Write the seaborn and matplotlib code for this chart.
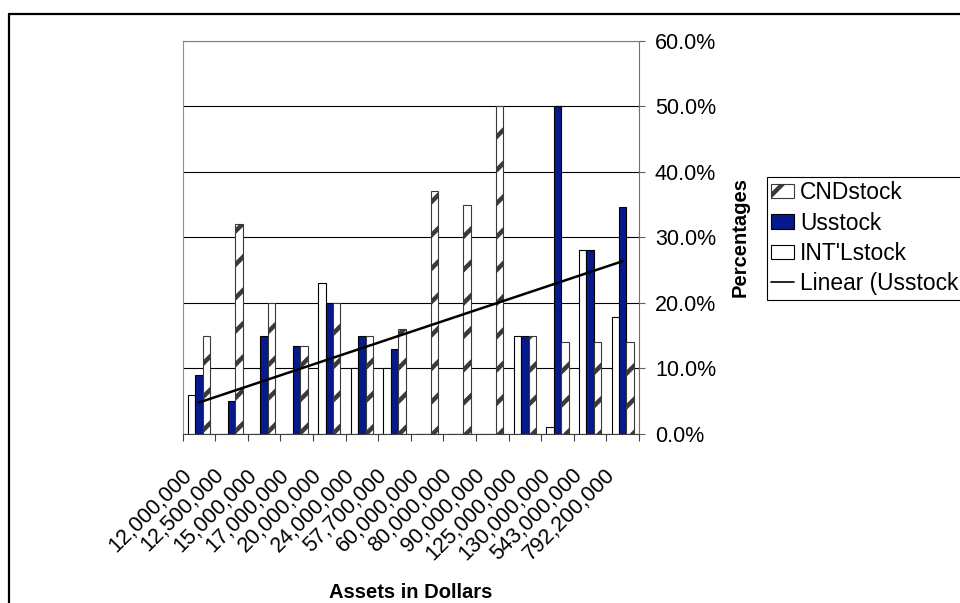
import numpy as np
import pandas as pd
import matplotlib
matplotlib.use("Agg")
import matplotlib.pyplot as plt
import seaborn as sns
from matplotlib.patches import Patch
from matplotlib.lines import Line2D
from matplotlib.ticker import FuncFormatter, FixedLocator
from matplotlib.transforms import ScaledTranslation

# ---- data (percent of assets per portfolio size) ----
assets = ["12,000,000", "12,500,000", "15,000,000", "17,000,000", "20,000,000",
          "24,000,000", "57,700,000", "60,000,000", "80,000,000", "90,000,000",
          "125,000,000", "130,000,000", "543,000,000", "792,200,000"]
intl_stock = [6.0, 0.0, 0.0, 0.0, 23.0, 10.0, 10.0, 0.0, 0.0, 0.0, 15.0, 1.0, 28.0, 17.8]
us_stock = [9.0, 5.0, 15.0, 13.5, 20.0, 15.0, 13.0, 0.0, 0.0, 0.0, 15.0, 50.0, 28.0, 34.7]
cnd_stock = [15.0, 32.0, 20.0, 13.5, 20.0, 15.0, 16.0, 37.0, 35.0, 50.0, 15.0, 14.0, 14.0, 14.1]
series_names = ["INT'Lstock", "Usstock", "CNDstock"]
legend_labels = ["CNDstock", "Usstock", "INT'Lstock", "Linear (Usstock"]
y_ticks = [0, 10, 20, 30, 40, 50, 60]

df = pd.DataFrame({
    "Assets": assets * 3,
    "Series": np.repeat(series_names, len(assets)),
    "Percent": intl_stock + us_stock + cnd_stock,
})

NAVY = "#061A8E"
HATCH = "#3a3a3a"

sns.set_theme(style="white")
plt.rcParams["font.family"] = ["Liberation Sans", "DejaVu Sans"]
plt.rcParams.update({
    "text.color": "black", "axes.labelcolor": "black",
    "xtick.color": "black", "ytick.color": "black",
    "hatch.linewidth": 3.2, "hatch.color": HATCH,
})

W, H = 960, 603
fig = plt.figure(figsize=(W / 100, H / 100), dpi=100)
left, right, top, bottom = 182.7, 639.0, 40.7, 434.0
ax = fig.add_axes([left / W, 1 - bottom / H, (right - left) / W, (bottom - top) / H])

palette = {"INT'Lstock": "white", "Usstock": NAVY, "CNDstock": "white"}
sns.barplot(data=df, x="Assets", y="Percent", hue="Series", hue_order=series_names,
            order=assets, palette=palette, width=0.68, gap=0, saturation=1,
            edgecolor="black", linewidth=0.8, errorbar=None, legend=False, ax=ax)

# diagonal pattern on the Canadian stock bars (hatch follows the edge colour)
for bar in ax.containers[2]:
    bar.set_hatch("/")
    bar.set_edgecolor(HATCH)

# linear trend of the US stock share
sns.regplot(x=np.arange(len(assets)), y=np.array(us_stock), scatter=False, ci=None,
            truncate=True, color="black", line_kws={"lw": 1.8, "zorder": 5}, ax=ax)

ax.set_xlim(-0.5, len(assets) - 0.5)
ax.set_ylim(0, 60)

# y axis on the right, percent labels
ax.yaxis.tick_right()
ax.yaxis.set_label_position("right")
ax.set_yticks(y_ticks)
ax.yaxis.set_major_formatter(FuncFormatter(lambda v, _: f"{v:.1f}%"))
ax.tick_params(axis="y", which="major", direction="out", length=4.5, width=0.8,
               color="#606060", labelcolor="black", pad=7, labelsize=15.5,
               right=True, left=False)
ax.grid(axis="y", color="black", lw=0.8)
ax.grid(axis="x", visible=False)
ax.set_axisbelow(True)

# category labels at bar groups, tick marks between groups
ax.set_xticks(range(len(assets)))
ax.set_xticklabels(assets, rotation=45, ha="right", va="top", fontsize=15.5)
ax.tick_params(axis="x", which="major", length=0, pad=22, bottom=True, labelcolor="black")
ax.xaxis.set_minor_locator(FixedLocator(np.arange(-0.5, len(assets), 1.0)))
ax.tick_params(axis="x", which="minor", direction="out", length=5, width=0.8,
               color="#404040", bottom=True)
shift = ScaledTranslation(-3 / 100, 0, fig.dpi_scale_trans)
for lab in ax.get_xticklabels():
    lab.set_transform(lab.get_transform() + shift)

ax.set_xlabel("Assets in Dollars", fontsize=14.5, fontweight="bold", color="black")
ax.xaxis.set_label_coords(0.5, (bottom - 592) / (bottom - top))
ax.xaxis.label.set_va("center")
ax.set_ylabel("Percentages", fontsize=14.5, fontweight="bold", rotation=90, color="black")
ax.yaxis.set_label_coords((740 - left) / (right - left), 0.5)
ax.yaxis.label.set_va("center")
ax.yaxis.label.set_ha("center")

for side, col in [("left", "#909090"), ("top", "#808080"), ("right", "#707070"), ("bottom", "#404040")]:
    ax.spines[side].set_color(col)
    ax.spines[side].set_linewidth(0.8)

# chart frame
fx, fy = 8.5 / W, 1 - 13.5 / H
fig.add_artist(Line2D([fx, fx], [-0.01, fy], color="black", lw=1.6, transform=fig.transFigure))
fig.add_artist(Line2D([fx, 1.01], [fy, fy], color="black", lw=1.6, transform=fig.transFigure))

handles = [
    Patch(facecolor="white", edgecolor=HATCH, hatch="/", lw=0.8),
    Patch(facecolor=NAVY, edgecolor="black", lw=0.8),
    Patch(facecolor="white", edgecolor="black", lw=0.8),
    Line2D([], [], color="black", lw=1.2),
]
leg = fig.legend(handles, legend_labels, loc="upper left",
                 bbox_to_anchor=(766.7 / W, 1 - 176.7 / H), bbox_transform=fig.transFigure,
                 frameon=True, fancybox=False, edgecolor="black", framealpha=1,
                 fontsize=16.4, borderpad=0.2, labelspacing=0.32, handlelength=0.98,
                 handleheight=0.6, handletextpad=0.28, borderaxespad=0)
leg.get_frame().set_linewidth(0.8)
for t in leg.get_texts():
    t.set_color("black")

fig.savefig("out.png", dpi=100)
